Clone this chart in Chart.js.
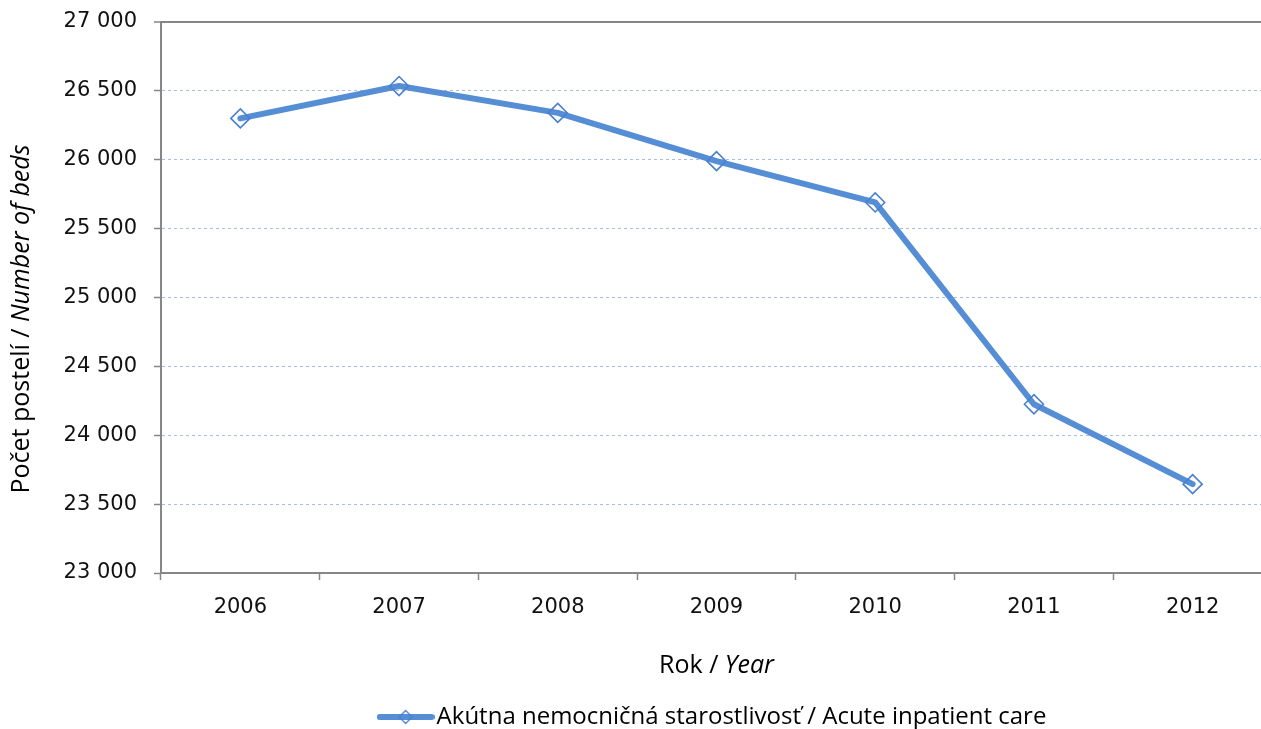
<!DOCTYPE html>
<html><head><meta charset="utf-8">
<script src="https://cdn.jsdelivr.net/npm/chart.js@4"></script>
<style>
html,body{margin:0;padding:0;overflow:hidden;background:#fff;width:1261px;height:729px}
#wrap{position:absolute;left:0;top:0;width:1432px;height:739px}
</style>
</head><body>
<div id="wrap"><canvas id="c" width="1432" height="739"></canvas></div>
<script>
// ---- data ----
const years = ['2006', '2007', '2008', '2009', '2010', '2011', '2012'];
const beds = [26300, 26535, 26340, 25990, 25690, 24225, 23645];
const seriesLabel = 'Akútna nemocničná starostlivosť / Acute inpatient care';
const yTickValues = [23000, 23500, 24000, 24500, 25000, 25500, 26000, 26500, 27000];
const yTickLabels = ['23 000', '23 500', '24 000', '24 500', '25 000', '25 500', '26 000', '26 500', '27 000'];
const xTitleParts = ['Rok / ', 'Year'];
const yTitleParts = ['Počet postelí / ', 'Number of beds'];

// ---- styles ----
const LINE = '#558ED5';
const MARK = '#4B7FD1';
const AXIS = '#868686';
const GRID = '#A6BFE0';
const tickFont = { family: 'DejaVu Sans', size: 21 };
const titleSize = 25;

// legend sample image: line + diamond
const legendImg = document.createElement('canvas');
legendImg.width = 58; legendImg.height = 20;
(function () {
  const g = legendImg.getContext('2d');
  g.strokeStyle = LINE; g.lineWidth = 6; g.lineCap = 'round';
  g.beginPath(); g.moveTo(3, 10); g.lineTo(55, 10); g.stroke();
  g.strokeStyle = MARK; g.lineWidth = 1.3;
  g.beginPath(); g.moveTo(29, 3.5); g.lineTo(35.5, 10); g.lineTo(29, 16.5); g.lineTo(22.5, 10); g.closePath(); g.stroke();
})();

const titlePlugin = {
  id: 'mixedTitles',
  afterDraw(chart) {
    const ctx = chart.ctx, a = chart.chartArea;
    const f1 = titleSize + 'px "Open Sans"', f2 = 'italic ' + titleSize + 'px "Open Sans"';
    function drawMixed(parts, cx, cy, rot) {
      ctx.save();
      ctx.translate(cx, cy);
      if (rot) ctx.rotate(rot);
      ctx.fillStyle = '#000';
      ctx.textBaseline = 'middle';
      ctx.textAlign = 'left';
      ctx.font = f1; const w1 = ctx.measureText(parts[0]).width;
      ctx.font = f2; const w2 = ctx.measureText(parts[1]).width;
      const x0 = -(w1 + w2) / 2;
      ctx.font = f1; ctx.fillText(parts[0], x0, 0);
      ctx.font = f2; ctx.fillText(parts[1], x0 + w1, 0);
      ctx.restore();
    }
    const xs = chart.scales.x;
    drawMixed(xTitleParts, (a.left + a.right) / 2, xs.bottom - 29, 0);
    drawMixed(yTitleParts, 22, a.top + 297, -Math.PI / 2);
  }
};

new Chart(document.getElementById('c'), {
  type: 'line',
  data: {
    labels: years,
    datasets: [{
      label: seriesLabel,
      data: beds,
      borderColor: LINE,
      borderWidth: 6,
      borderJoinStyle: 'round',
      borderCapStyle: 'round',
      tension: 0,
      pointStyle: 'rectRot',
      pointRadius: 9.5,
      pointHoverRadius: 9.5,
      pointBorderWidth: 1.6,
      pointBorderColor: MARK,
      pointBackgroundColor: 'rgba(255,255,255,0)'
    }]
  },
  options: {
    responsive: false,
    animation: false,
    devicePixelRatio: 1,
    layout: { padding: { top: 22, right: 160, left: 0, bottom: 0 } },
    plugins: {
      tooltip: { enabled: false },
      legend: {
        position: 'bottom',
        fullSize: false,
        labels: {
          usePointStyle: true,
          pointStyleWidth: 38,
          padding: 10,
          color: '#000',
          font: { family: 'Open Sans', size: 24 },
          generateLabels() {
            return [{ text: seriesLabel, pointStyle: legendImg, fillStyle: LINE, strokeStyle: LINE, lineWidth: 0, datasetIndex: 0, hidden: false }];
          }
        }
      }
    },
    scales: {
      x: {
        offset: true,
        grid: { offset: true, drawOnChartArea: false, tickLength: 7, tickColor: AXIS, tickWidth: 1.5 },
        border: { color: AXIS, width: 2 },
        ticks: { font: tickFont, color: '#111', padding: 15, maxRotation: 0 },
        afterFit(s) { s.height = 122; s.paddingLeft = 0; s.paddingRight = 0; }
      },
      y: {
        min: 23000, max: 27000,
        ticks: {
          stepSize: 500, padding: 17, font: tickFont, color: '#111',
          callback: (v) => { const i = yTickValues.indexOf(v); return i >= 0 ? yTickLabels[i] : ''; }
        },
        grid: {
          color: (c) => c.tick && c.tick.value === 27000 ? AXIS : (c.tick && c.tick.value === 23000 ? 'rgba(0,0,0,0)' : GRID),
          lineWidth: (c) => c.tick && c.tick.value === 27000 ? 2 : 1,
          tickLength: 7, tickColor: AXIS, tickWidth: 1.5
        },
        border: {
          color: AXIS, width: 2,
          dash: (c) => c.tick && c.tick.value === 27000 ? [] : [3, 3]
        },
        afterFit(s) { s.width = 161; s.paddingTop = 0; s.paddingBottom = 0; }
      }
    }
  },
  plugins: [titlePlugin]
});
</script>
</body></html>
